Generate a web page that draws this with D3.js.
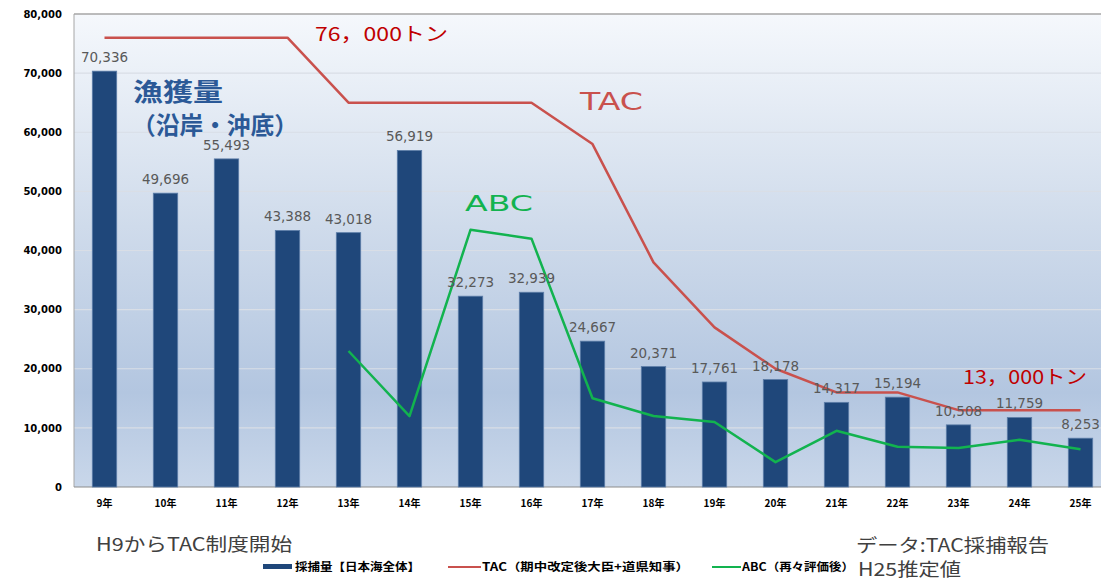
<!DOCTYPE html>
<html>
<head>
<meta charset="utf-8">
<script src="https://cdn.jsdelivr.net/npm/d3@7"></script>
<style>
  body { margin: 0; background: #fff; }
  svg { display: block; }
</style>
</head>
<body>
<script>
// data
const years = ["9年","10年","11年","12年","13年","14年","15年","16年","17年","18年","19年","20年","21年","22年","23年","24年","25年"];
const catchTons = [70336,49696,55493,43388,43018,56919,32273,32939,24667,20371,17761,18178,14317,15194,10508,11759,8253];
const tacTons = [76000,76000,76000,76000,65000,65000,65000,65000,58000,38000,27000,20000,16000,16000,13000,13000,13000];
const abcTons = [null,null,null,null,23000,12000,43500,42000,15000,12000,11000,4200,9500,6800,6600,8000,6400];
const yTicks = [0,10000,20000,30000,40000,50000,60000,70000,80000];

const W = 1101, H = 582;
const margin = { top: 14, left: 74, bottom: 487 };
const jp = "'Noto Sans CJK JP', sans-serif";

const svg = d3.select("body").append("svg").attr("width", W).attr("height", H);

const x = d3.scaleBand().domain(years)
  .range([margin.left, margin.left + 17 * 61])
  .paddingInner(0.6).paddingOuter(0.3);
const y = d3.scaleLinear().domain([0, 80000]).range([margin.bottom, margin.top]);
const cx = d => x(d) + x.bandwidth() / 2;

// plot background
const grad = svg.append("defs").append("linearGradient")
  .attr("id", "bg").attr("x1", 0).attr("y1", 0).attr("x2", 0).attr("y2", 1);
grad.append("stop").attr("offset", "0%").attr("stop-color", "#f5f8fc");
grad.append("stop").attr("offset", "45%").attr("stop-color", "#cfdbeb");
grad.append("stop").attr("offset", "80%").attr("stop-color", "#b3c6e0");
grad.append("stop").attr("offset", "100%").attr("stop-color", "#c9d7ea");

svg.append("rect")
  .attr("x", margin.left).attr("y", margin.top)
  .attr("width", W - margin.left).attr("height", margin.bottom - margin.top)
  .attr("fill", "url(#bg)");

// gridlines
svg.append("g").selectAll("line").data(yTicks.slice(1, -1)).join("line")
  .attr("x1", margin.left).attr("x2", W)
  .attr("y1", d => y(d)).attr("y2", d => y(d))
  .attr("stroke", "#d9dee6").attr("stroke-width", 1.2);

// border
svg.append("line").attr("x1", margin.left).attr("x2", W)
  .attr("y1", margin.top).attr("y2", margin.top)
  .attr("stroke", "#a6a6a6").attr("stroke-width", 1.5);
svg.append("line").attr("x1", margin.left).attr("x2", margin.left)
  .attr("y1", margin.top).attr("y2", margin.bottom)
  .attr("stroke", "#a6a6a6").attr("stroke-width", 1);
svg.append("line").attr("x1", margin.left).attr("x2", W)
  .attr("y1", margin.bottom).attr("y2", margin.bottom)
  .attr("stroke", "#8c8c8c").attr("stroke-width", 1);

// axes
const yAxis = svg.append("g")
  .attr("transform", `translate(${margin.left},0)`)
  .call(d3.axisLeft(y).tickValues(yTicks).tickFormat(d3.format(",")).tickSize(0).tickPadding(12));
yAxis.select(".domain").remove();
yAxis.selectAll("text")
  .attr("font-family", "'DejaVu Sans', sans-serif").attr("font-weight", "bold")
  .attr("font-size", 10).attr("fill", "#000");

const xAxis = svg.append("g")
  .attr("transform", `translate(0,${margin.bottom})`)
  .call(d3.axisBottom(x).tickSize(0).tickPadding(13));
xAxis.select(".domain").remove();
xAxis.selectAll("text")
  .attr("font-family", jp).attr("font-weight", "bold")
  .attr("font-size", 10).attr("fill", "#000");

// bars
svg.append("g").selectAll("rect").data(catchTons).join("rect")
  .attr("x", (d, i) => x(years[i]))
  .attr("y", d => y(d))
  .attr("width", x.bandwidth())
  .attr("height", d => margin.bottom - y(d))
  .attr("fill", "#1f477a")
  .attr("stroke", "#5d7ea8").attr("stroke-width", 0.8);

// TAC / ABC lines
const line = d3.line()
  .defined(d => d[1] != null)
  .x(d => cx(d[0]))
  .y(d => y(d[1]));

svg.append("path")
  .datum(years.map((d, i) => [d, tacTons[i]]))
  .attr("fill", "none").attr("stroke", "#c9514d").attr("stroke-width", 2.5)
  .attr("stroke-linejoin", "round")
  .attr("d", line);

svg.append("path")
  .datum(years.map((d, i) => [d, abcTons[i]]))
  .attr("fill", "none").attr("stroke", "#12b34f").attr("stroke-width", 2.5)
  .attr("stroke-linejoin", "round")
  .attr("d", line);

// value labels
svg.append("g").selectAll("text").data(catchTons).join("text")
  .attr("x", (d, i) => cx(years[i]))
  .attr("y", d => y(d) - 9)
  .attr("text-anchor", "middle")
  .attr("font-family", "'DejaVu Sans', sans-serif")
  .attr("font-size", 13.5).attr("fill", "#595959")
  .text(d => d3.format(",")(d));

// annotations (width fitted to the reference)
const note = (tx, ty, txt, size, color, weight, len, family) =>
  svg.append("text").attr("x", tx).attr("y", ty)
    .attr("font-family", family || jp).attr("font-size", size)
    .attr("font-weight", weight)
    .attr("textLength", len).attr("lengthAdjust", "spacingAndGlyphs")
    .attr("fill", color).text(txt);

note(133, 101, "漁獲量", 25, "#2b5997", "bold", 90);
note(132, 134, "（沿岸・沖底）", 24, "#2b5997", "bold", 166);
note(315, 41, "76，000トン", 19, "#c00000", "normal", 133);
note(963, 384, "13，000トン", 19, "#c00000", "normal", 124);
note(580, 110, "TAC", 25, "#c9514d", "normal", 63, "'DejaVu Sans', sans-serif");
note(465, 211, "ABC", 22, "#12b34f", "normal", 68, "'DejaVu Sans', sans-serif");

note(96, 551, "H9からTAC制度開始", 18, "#404040", "normal", 196);
note(856, 552, "データ:TAC採捕報告", 18, "#404040", "normal", 193);
note(858, 576, "H25推定値", 18, "#404040", "normal", 103);

// legend
const lg = svg.append("g").attr("font-family", jp).attr("font-size", 11).attr("font-weight", "bold");
const legendText = (tx, len, txt) => lg.append("text").attr("x", tx).attr("y", 571)
  .attr("textLength", len).attr("lengthAdjust", "spacingAndGlyphs").text(txt);
lg.append("rect").attr("x", 263).attr("y", 564).attr("width", 29).attr("height", 5).attr("fill", "#1f477a");
legendText(295, 125, "採捕量【日本海全体】");
lg.append("line").attr("x1", 448).attr("x2", 481).attr("y1", 567).attr("y2", 567)
  .attr("stroke", "#c9514d").attr("stroke-width", 2);
legendText(482, 207, "TAC（期中改定後大臣+道県知事）");
lg.append("line").attr("x1", 712).attr("x2", 741).attr("y1", 567).attr("y2", 567)
  .attr("stroke", "#12b34f").attr("stroke-width", 2);
legendText(742, 112, "ABC（再々評価後）");
</script>
</body>
</html>
